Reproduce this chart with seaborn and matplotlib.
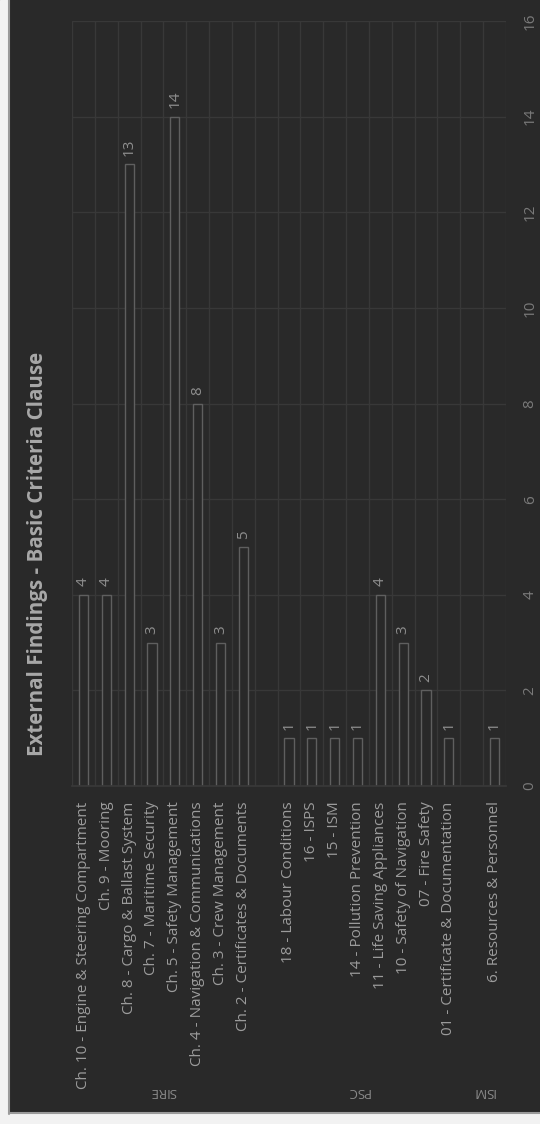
import matplotlib
matplotlib.use("Agg")
import matplotlib.pyplot as plt
import seaborn as sns
import pandas as pd
from matplotlib.lines import Line2D
from matplotlib.patches import Rectangle

# ---- data ----
sire_labels = ["Ch. 10 - Engine & Steering Compartment", "Ch. 9 - Mooring",
               "Ch. 8 - Cargo & Ballast System", "Ch. 7 - Maritime Security",
               "Ch. 5 - Safety Management", "Ch. 4 - Navigation & Communications",
               "Ch. 3 - Crew Management", "Ch. 2 - Certificates & Documents"]
sire_values = [4, 4, 13, 3, 14, 8, 3, 5]
psc_labels = ["18 - Labour Conditions", "16 - ISPS", "15 - ISM",
              "14 - Pollution Prevention", "11 - Life Saving Appliances",
              "10 - Safety of Navigation", "07 - Fire Safety",
              "01 - Certificate & Documentation"]
psc_values = [1, 1, 1, 1, 4, 3, 2, 1]
ism_labels = ["6. Resources & Personnel"]
ism_values = [1]
groups = ["SIRE", "PSC", "ISM"]
title = "External Findings - Basic Criteria Clause"
value_ticks = [0, 2, 4, 6, 8, 10, 12, 14, 16]

blank1, blank2 = " ", "  "
order = sire_labels + [blank1] + psc_labels + [blank2] + ism_labels
df = pd.DataFrame({
    "clause": sire_labels + psc_labels + ism_labels,
    "count": sire_values + psc_values + ism_values,
    "group": ["SIRE"] * len(sire_labels) + ["PSC"] * len(psc_labels) + ["ISM"] * len(ism_labels),
})

BG = "#292929"
GRID = "#383838"
EDGE = "#5f5f5f"
TXT = "#9c9c9c"

sns.set_theme(style="dark")
plt.rcParams["font.family"] = ["Open Sans", "DejaVu Sans"]

W, H = 540, 1124
fig = plt.figure(figsize=(W / 100, H / 100), dpi=100, facecolor=BG)
ax_l, ax_r, ax_t, ax_b = 72, 506, 21, 786
ax = fig.add_axes([ax_l / W, 1 - ax_b / H, (ax_r - ax_l) / W, (ax_b - ax_t) / H])
ax.set_facecolor(BG)

sns.barplot(data=df, x="clause", y="count", order=order, ax=ax, width=0.4,
            color=BG, saturation=1, edgecolor=EDGE, linewidth=1.0, errorbar=None)

ax.set_xlim(-0.5, len(order) - 0.5)
ax.set_ylim(0, 16)
ax.set_xlabel("")
ax.set_ylabel("")

# value labels
for c in ax.containers:
    ax.bar_label(c, fmt="%d", padding=6, rotation=90, color="#8e8e8e", fontsize=11)

# gridlines
ax.set_xticks([i + 0.5 for i in range(-1, len(order))], minor=True)
ax.grid(False)
ax.grid(True, which="minor", axis="x", color=GRID, linewidth=1)
ax.set_yticks(value_ticks)
ax.grid(True, which="major", axis="y", color=GRID, linewidth=1)
ax.set_axisbelow(True)
for s in ["top", "right", "left"]:
    ax.spines[s].set_visible(False)
ax.spines["bottom"].set_color(GRID)

# category tick labels
ax.set_xticks(range(len(order)))
ax.set_xticklabels(order, rotation=90, color=TXT, fontsize=11)
ax.tick_params(axis="x", which="both", length=0, pad=11)

# value axis on the right
ax.yaxis.tick_right()
ax.tick_params(axis="y", length=0, pad=12, labelcolor="#7a7a7a", labelsize=11)
for t in ax.get_yticklabels():
    t.set_rotation(90)
    t.set_va("center")

# group labels (upside down)
group_pos = [3.5, 12.0, 17.5]
for g, p in zip(groups, group_pos):
    xf = (ax_l + (p + 0.5) / len(order) * (ax_r - ax_l)) / W
    fig.text(xf, 1 - 1092 / H, g, rotation=180, ha="center", va="center",
             color="#8a8a8a", fontsize=9.5)

# title
fig.text(38 / W, 1 - 554 / H, title, rotation=90, ha="center", va="center",
         color="#a8a8a8", fontsize=14.8, fontweight="bold")

# frame decorations
fig.add_artist(Rectangle((0, 0), 8 / W, 1, transform=fig.transFigure, color="#f2f2f2", zorder=0))
fig.add_artist(Rectangle((0, 0), 1, 10.5 / H, transform=fig.transFigure, color="#f2f2f2", zorder=0))
fig.add_artist(Line2D([8.5 / W, 8.5 / W], [10.5 / H, 1], transform=fig.transFigure, color="#9a9a9a", lw=1.5))
fig.add_artist(Line2D([8.5 / W, 1], [11 / H, 11 / H], transform=fig.transFigure, color="#9a9a9a", lw=1.5))

fig.savefig("out.png", dpi=100, facecolor=BG)
